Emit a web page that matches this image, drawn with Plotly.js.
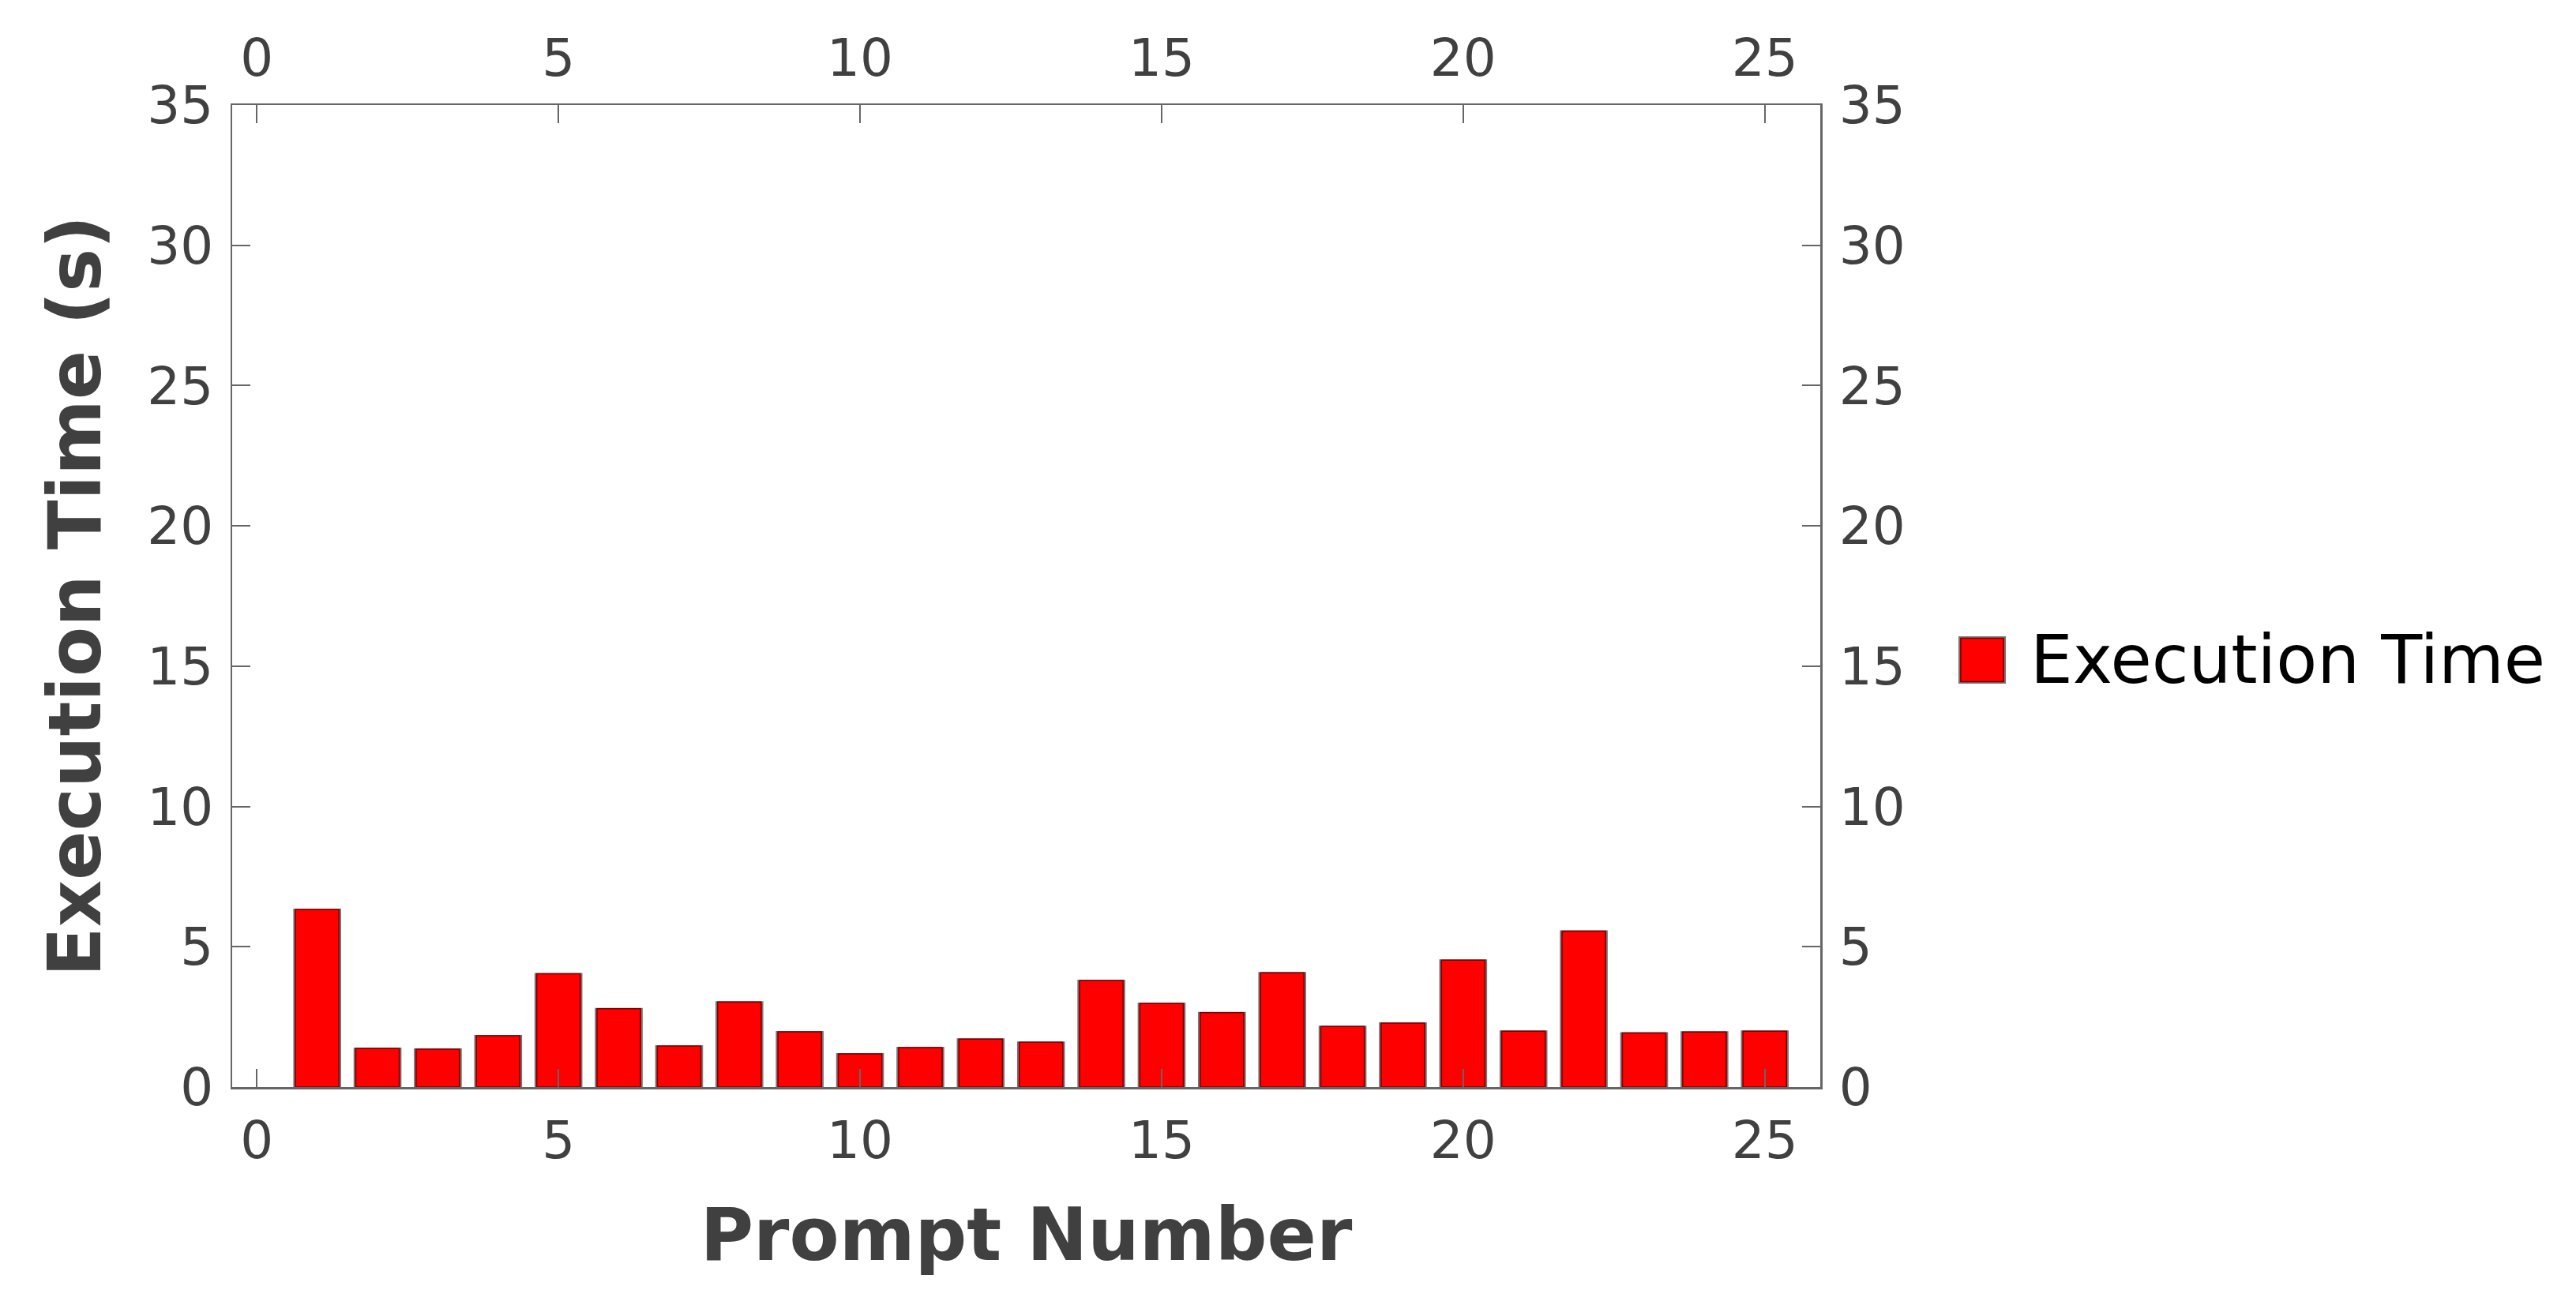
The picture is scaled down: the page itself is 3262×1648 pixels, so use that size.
<!DOCTYPE html>
<html>
<head>
<meta charset="utf-8">
<script src="https://cdn.plot.ly/plotly-3.0.1.min.js"></script>
<style>
  html, body { margin: 0; padding: 0; background: #ffffff; }
  #chart { width: 3262px; height: 1648px; }
</style>
</head>
<body>
<div id="chart"></div>
<script>
// ---- data ----
const promptNumbers = [1,2,3,4,5,6,7,8,9,10,11,12,13,14,15,16,17,18,19,20,21,22,23,24,25];
const executionTimes = [6.33,1.38,1.35,1.83,4.04,2.79,1.46,3.03,1.97,1.18,1.41,1.71,1.60,3.80,2.98,2.65,4.07,2.16,2.28,4.52,1.99,5.56,1.93,1.96,1.99];
const seriesName = "Execution Time";
const xTickVals = [0,5,10,15,20,25];
const yTickVals = [0,5,10,15,20,25,30,35];
const xTitle = "Prompt Number";
const yTitle = "Execution Time (s)";

const axisGray = "#666666";
const labelGray = "#404040";
const font = "DejaVu Sans, sans-serif";

const traces = [
  {
    type: "bar", x: promptNumbers, y: executionTimes, width: 0.767,
    marker: { color: "#ff0000", line: { color: "#767676", width: 2 } },
    showlegend: false, hoverinfo: "skip"
  },
  {
    type: "bar", x: promptNumbers, y: executionTimes, width: 0.721, name: seriesName,
    marker: { color: "#ff0000", line: { color: "#7a0000", width: 1.5 } },
    showlegend: false
  },
  { type: "scatter", x: [], y: [], xaxis: "x2", yaxis: "y2", showlegend: false, hoverinfo: "skip" }
];

const commonAxis = {
  showline: true, linecolor: axisGray, linewidth: 2.5,
  ticks: "inside", ticklen: 23, tickwidth: 2, tickcolor: axisGray,
  showgrid: false, zeroline: false,
  tickfont: { family: font, size: 66, color: labelGray },
  fixedrange: true
};

const layout = {
  width: 3262, height: 1648,
  margin: { l: 294, r: 957, t: 133, b: 271 },
  paper_bgcolor: "#ffffff", plot_bgcolor: "#ffffff",
  barmode: "overlay",
  showlegend: false,
  font: { family: font },
  xaxis: Object.assign({}, commonAxis, {
    range: [-0.41, 25.92], tickmode: "array", tickvals: xTickVals,
    ticklabelstandoff: 8,
    title: { text: xTitle, font: { family: font, size: 92, color: labelGray, weight: "bold" }, standoff: 50 }
  }),
  yaxis: Object.assign({}, commonAxis, {
    range: [0, 35], tickmode: "array", tickvals: yTickVals,
    ticklabelstandoff: 8,
    title: { text: yTitle, font: { family: font, size: 92, color: labelGray, weight: "bold" }, standoff: 28 }
  }),
  xaxis2: Object.assign({}, commonAxis, {
    range: [-0.41, 25.92], tickmode: "array", tickvals: xTickVals,
    overlaying: "x", side: "top", anchor: "y", ticklabelstandoff: 8
  }),
  yaxis2: Object.assign({}, commonAxis, {
    range: [0, 35], tickmode: "array", tickvals: yTickVals,
    overlaying: "y", side: "right", anchor: "x", ticklabelstandoff: 8
  }),
  shapes: [
    { type: "rect", xref: "paper", yref: "paper", x0: 1.0875, x1: 1.1164, y0: 0.4116, y1: 0.4582,
      fillcolor: "#ff0000", line: { color: "#767676", width: 2 } },
    { type: "rect", xref: "paper", yref: "paper", x0: 1.0885, x1: 1.1154, y0: 0.4128, y1: 0.4570,
      fillcolor: "#ff0000", line: { color: "#7a0000", width: 1.5 } }
  ],
  annotations: [
    { xref: "paper", yref: "paper", x: 1.1313, y: 0.4349, xanchor: "left", yanchor: "middle",
      text: seriesName, showarrow: false, font: { family: font, size: 85, color: "#000000" } }
  ]
};

Plotly.newPlot("chart", traces, layout, { staticPlot: true, displayModeBar: false });
</script>
</body>
</html>
